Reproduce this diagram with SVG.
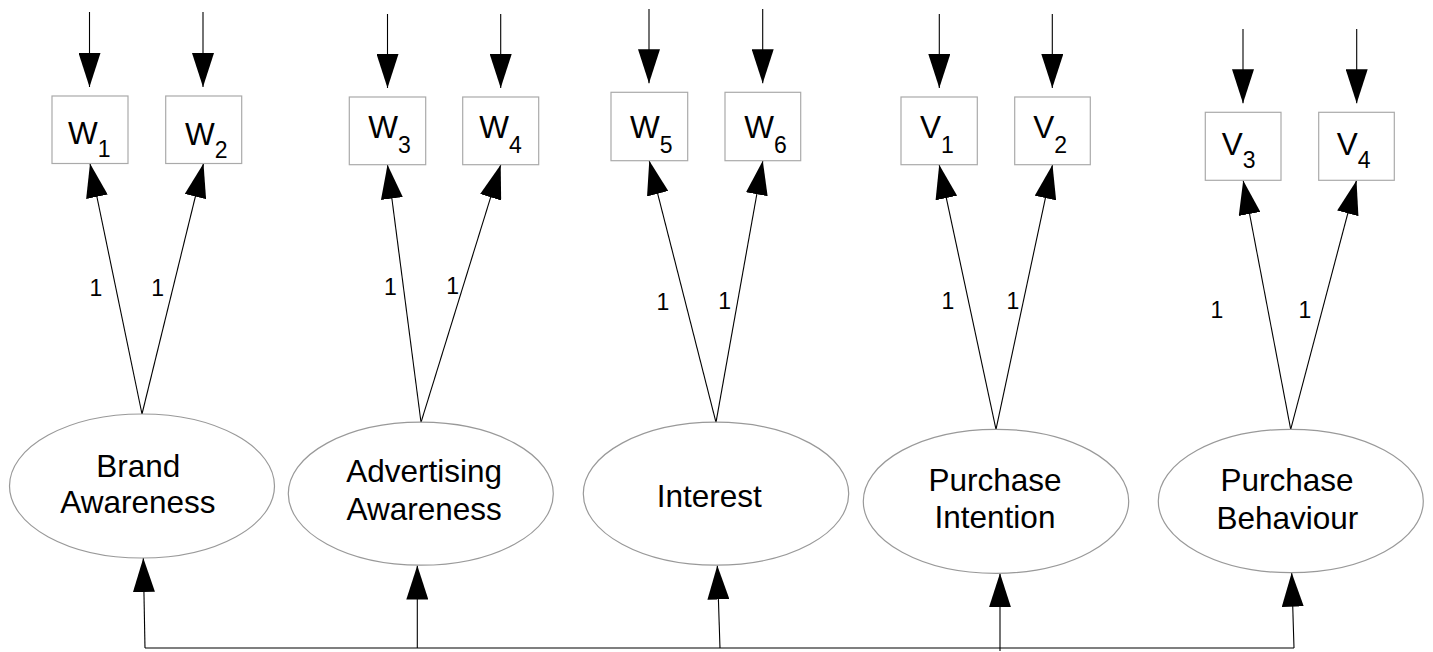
<svg xmlns="http://www.w3.org/2000/svg" width="1433" height="652" viewBox="0 0 1433 652">
<defs>
<marker id="ah" markerUnits="userSpaceOnUse" markerWidth="34" markerHeight="22" viewBox="0 0 34 22" refX="34" refY="11" orient="auto">
<path d="M0,0 L34,11 L0,22 z" fill="#000"/>
</marker>
<style>
.bg{fill:#fff}
.box{fill:#fff;stroke:#aaa;stroke-width:1.2}
.ell{fill:#fff;stroke:#999;stroke-width:1.2}
.lbl{font-family:"Liberation Sans",Arial,sans-serif;font-size:31.5px;fill:#000;text-anchor:middle}
.var{font-family:"Liberation Sans",Arial,sans-serif;font-size:31.5px;fill:#000}
.sub{font-size:23px}
.one{font-family:"Liberation Sans",Arial,sans-serif;font-size:23px;fill:#000;text-anchor:middle}
.c{fill:none;stroke:#000;stroke-width:1.1}
.ca{fill:none;stroke:#000;stroke-width:1.1;marker-end:url(#ah)}
</style>
</defs>
<rect class="bg" x="0" y="0" width="1433" height="652"/>

<g id="connectors">
<!-- error arrows into indicators -->
<line class="ca" x1="89.5" y1="12" x2="89.5" y2="87"/>
<line class="ca" x1="203" y1="12" x2="203" y2="87"/>
<line class="ca" x1="387.5" y1="14" x2="387.5" y2="88"/>
<line class="ca" x1="500.7" y1="14" x2="500.7" y2="88"/>
<line class="ca" x1="649" y1="9" x2="649" y2="83.3"/>
<line class="ca" x1="762.7" y1="9" x2="762.7" y2="83.3"/>
<line class="ca" x1="939.3" y1="14" x2="939.3" y2="88"/>
<line class="ca" x1="1052.3" y1="14" x2="1052.3" y2="88"/>
<line class="ca" x1="1243" y1="29" x2="1243" y2="103.3"/>
<line class="ca" x1="1356.7" y1="29" x2="1356.7" y2="103.3"/>
<!-- loadings -->
<line class="ca" x1="142" y1="414" x2="90" y2="163.5"/>
<line class="ca" x1="142" y1="414" x2="203.5" y2="163.5"/>
<line class="ca" x1="421" y1="422.3" x2="387.5" y2="164.8"/>
<line class="ca" x1="421" y1="422.3" x2="500.7" y2="164.8"/>
<line class="ca" x1="716" y1="422.3" x2="649.3" y2="160.8"/>
<line class="ca" x1="716" y1="422.3" x2="762.8" y2="160.8"/>
<line class="ca" x1="996" y1="429.3" x2="939.2" y2="164.8"/>
<line class="ca" x1="996" y1="429.3" x2="1052.5" y2="164.8"/>
<line class="ca" x1="1290.7" y1="429.3" x2="1243.2" y2="180.5"/>
<line class="ca" x1="1290.7" y1="429.3" x2="1356.5" y2="180.5"/>
<!-- bottom covariance bar -->
<polyline class="c" points="145,648 1294,648"/>
<line class="ca" x1="145" y1="648" x2="143.3" y2="558"/>
<line class="ca" x1="417.3" y1="648" x2="417.3" y2="565.5"/>
<line class="ca" x1="720" y1="648" x2="717.3" y2="565.5"/>
<line class="ca" x1="1000" y1="651" x2="1000" y2="573.3"/>
<line class="ca" x1="1294" y1="648" x2="1291.7" y2="572.7"/>
<!-- loading labels -->
<text class="one" x="96" y="296">1</text>
<text class="one" x="157.6" y="296">1</text>
<text class="one" x="390.4" y="295">1</text>
<text class="one" x="452.6" y="294">1</text>
<text class="one" x="662.8" y="310">1</text>
<text class="one" x="724.7" y="309.3">1</text>
<text class="one" x="948" y="309">1</text>
<text class="one" x="1013" y="309">1</text>
<text class="one" x="1217" y="318">1</text>
<text class="one" x="1305" y="318">1</text>
</g>

<g id="W1"><rect class="box" x="52" y="96" width="76" height="67.5"/><text class="var" x="68" y="144">W<tspan class="sub" y="156.7">1</tspan></text></g>
<g id="W2"><rect class="box" x="165.7" y="96" width="76" height="67.5"/><text class="var" x="185" y="144.5">W<tspan class="sub" y="157.5">2</tspan></text></g>
<g id="W3"><rect class="box" x="349.3" y="97" width="76.4" height="67.7"/><text class="var" x="368.3" y="138.3">W<tspan class="sub" y="152.7">3</tspan></text></g>
<g id="W4"><rect class="box" x="462.7" y="97" width="76" height="67.7"/><text class="var" x="479.3" y="138.3">W<tspan class="sub" y="152.7">4</tspan></text></g>
<g id="W5"><rect class="box" x="611" y="92.3" width="76.7" height="68.4"/><text class="var" x="630" y="138.3">W<tspan class="sub" y="152.7">5</tspan></text></g>
<g id="W6"><rect class="box" x="725" y="92.3" width="75.7" height="68.4"/><text class="var" x="744.3" y="138.3">W<tspan class="sub" y="152.7">6</tspan></text></g>
<g id="V1"><rect class="box" x="901" y="97" width="76.3" height="67.7"/><text class="var" x="920" y="138.3">V<tspan class="sub" y="152.7">1</tspan></text></g>
<g id="V2"><rect class="box" x="1014.7" y="97" width="75.6" height="67.7"/><text class="var" x="1033.3" y="138.3">V<tspan class="sub" y="152.7">2</tspan></text></g>
<g id="V3"><rect class="box" x="1205.3" y="112.3" width="75.7" height="68"/><text class="var" x="1221.7" y="155">V<tspan class="sub" y="167.7">3</tspan></text></g>
<g id="V4"><rect class="box" x="1318.7" y="112.3" width="75.6" height="68"/><text class="var" x="1336.7" y="155">V<tspan class="sub" y="167.7">4</tspan></text></g>

<g id="BrandAwareness"><ellipse class="ell" cx="142" cy="486" rx="132.5" ry="72"/><text class="lbl" x="138.3" y="477">Brand</text><text class="lbl" x="138" y="513">Awareness</text></g>
<g id="AdvertisingAwareness"><ellipse class="ell" cx="420.8" cy="493.7" rx="132.5" ry="71.5"/><text class="lbl" x="424.2" y="482">Advertising</text><text class="lbl" x="424.2" y="520">Awareness</text></g>
<g id="Interest"><ellipse class="ell" cx="716" cy="493.7" rx="132.7" ry="71.5"/><text class="lbl" x="709.2" y="507">Interest</text></g>
<g id="PurchaseIntention"><ellipse class="ell" cx="996" cy="501.3" rx="132.7" ry="72"/><text class="lbl" x="995" y="491">Purchase</text><text class="lbl" x="995" y="528">Intention</text></g>
<g id="PurchaseBehaviour"><ellipse class="ell" cx="1290.8" cy="501" rx="132.5" ry="71.7"/><text class="lbl" x="1287" y="491">Purchase</text><text class="lbl" x="1287.3" y="529">Behaviour</text></g>
</svg>
